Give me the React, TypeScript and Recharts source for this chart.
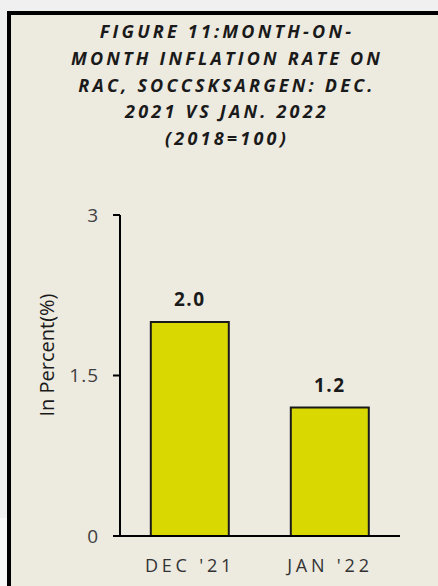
import { BarChart, Bar, XAxis, YAxis, LabelList } from 'recharts'

const titleLines = [
  'FIGURE 11:MONTH-ON-',
  'MONTH INFLATION RATE ON',
  'RAC, SOCCSKSARGEN: DEC.',
  '2021 VS JAN. 2022',
  '(2018=100)',
]
const months = ["DEC '21", "JAN '22"]
const rates = [2.0, 1.2]
const yTicks = [0, 1.5, 3]
const yLabel = 'In Percent(%)'

const data = months.map((m, i) => ({ month: m, rate: rates[i] }))

const FONT = '"Open Sans", "Noto Sans", sans-serif'

export default function App() {
  return (
    <div style={{ position: 'absolute', left: 0, top: 0, width: 438, height: 586, background: '#f0f0f0', overflow: 'hidden', fontFamily: FONT }}>
      <div style={{ position: 'absolute', left: 0, top: 518, width: 7, height: 68, background: '#f8f8f8' }} />
      <div style={{ position: 'absolute', left: 7, top: 11, width: 460, height: 600, background: '#edeae0', border: '4px solid #000', boxSizing: 'border-box' }} />
      <div style={{ position: 'absolute', left: 11, top: 18, width: 432, textAlign: 'center', fontWeight: 700, fontStyle: 'italic', fontSize: 18, lineHeight: '26.8px', letterSpacing: 3.2, color: '#1a1a1a' }}>
        {titleLines.map(l => <div key={l}>{l}</div>)}
      </div>
      <div style={{ position: 'absolute', left: 11, top: 14 }}>
        <BarChart width={427} height={572} data={data} margin={{ top: 201, right: 38, left: 0, bottom: 20 }} barCategoryGap="22%">
          <YAxis
            width={109}
            domain={[0, 3]}
            ticks={yTicks}
            interval={0}
            axisLine={{ stroke: '#000', strokeWidth: 2 }}
            tickLine={{ stroke: '#000', strokeWidth: 2 }}
            tickSize={7}
            tickMargin={14}
            tick={{ fontSize: 19, fill: '#404040', fontFamily: FONT, letterSpacing: 1 }}
          />
          <XAxis
            dataKey="month"
            axisLine={{ stroke: '#000', strokeWidth: 2 }}
            tickLine={false}
            tickSize={0}
            tickMargin={23}
            tick={{ fontSize: 18, fill: '#333', fontFamily: FONT, letterSpacing: 3.8 }}
          />
          <Bar dataKey="rate" fill="#d9d800" stroke="#1a1a1a" strokeWidth={2} isAnimationActive={false}>
            <LabelList dataKey="rate" position="top" offset={16} formatter={(v: number) => v.toFixed(1)} style={{ fontSize: 19, fontWeight: 700, fill: '#1a1a1a', fontFamily: FONT, letterSpacing: 1.5 }} />
          </Bar>
        </BarChart>
      </div>
      <div style={{ position: 'absolute', left: 46, top: 355, transform: 'translate(-50%, -50%) rotate(-90deg)', whiteSpace: 'nowrap', fontSize: 20, color: '#1a1a1a' }}>
        {yLabel}
      </div>
    </div>
  )
}
